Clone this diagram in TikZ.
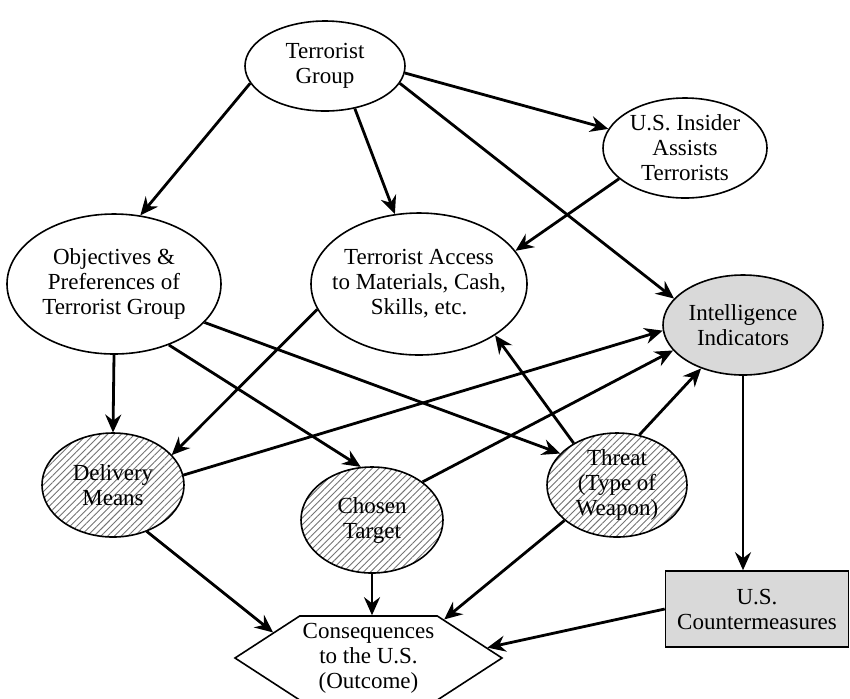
\documentclass[tikz,border=0pt]{standalone}
\usepackage{fontspec}
\setmainfont{Liberation Serif}
\usetikzlibrary{arrows.meta,shapes.geometric,shapes.symbols,patterns.meta}

\begin{document}
\begin{tikzpicture}[x=0.5pt,y=-0.5pt,
  font=\fontsize{11.5}{12.5}\selectfont,
  every node/.style={inner sep=0pt},
  oval/.style={ellipse,draw,line width=0.8pt,fill=white},
  hatched/.style={ellipse,draw,line width=0.8pt,
    pattern={Lines[angle=45,distance=2.4pt,line width=0.45pt]},pattern color=black!55},
  shaded/.style={ellipse,draw,line width=0.8pt,fill=black!15},
  txt/.style={label={[align=center]center:#1}},
  link/.style={-{Stealth[length=9pt,width=8pt,inset=3pt]},line width=1.4pt}]
  \useasboundingbox (0,0) rectangle (850,698);

  \node[oval,minimum width=80pt,minimum height=45pt,txt={Terrorist\\Group}] (group) at (325,66) {};
  \node[oval,minimum width=82pt,minimum height=50pt,txt={U.S. Insider\\Assists\\Terrorists}] (insider) at (685,148) {};
  \node[oval,minimum width=107pt,minimum height=70pt,txt={Objectives \&\\Preferences of\\Terrorist Group}] (goals) at (114,284) {};
  \node[oval,minimum width=108pt,minimum height=71pt,txt={Terrorist Access\\to Materials, Cash,\\Skills, etc.}] (access) at (419,284) {};
  \node[shaded,minimum width=80pt,minimum height=50pt,txt={Intelligence\\Indicators}] (intel) at (743,325) {};
  \node[hatched,minimum width=71pt,minimum height=52pt,txt={Delivery\\Means}] (delivery) at (113,485) {};
  \node[hatched,minimum width=71pt,minimum height=53pt,txt={Chosen\\Target}] (target) at (372,520) {};
  \node[hatched,minimum width=70pt,minimum height=52pt,txt={Threat\\(Type of\\Weapon)}] (threat) at (617,485) {};
  \node[draw,line width=0.8pt,fill=black!15,minimum width=91.5pt,minimum height=38pt,align=center] (counter) at (757,609) {U.S.\\Countermeasures};
  \node[signal,signal to=west and east,signal pointer angle=66,draw,line width=0.8pt,fill=white,
    minimum width=133.5pt,minimum height=42pt,txt={Consequences\\to the U.S.\\(Outcome)}] (outcome) at (368.5,658) {};

  \draw[link] (group.193) -- (goals.69);
  \draw[link] (group.-55) -- (access.109);
  \draw[link] (group.-5) -- (insider.166);
  \draw[link] (group.-13) -- (intel.159);
  \draw[link] (insider.205) -- (access.19);
  \draw[link] (goals.south) -- (delivery.north);
  \draw[link] (goals.-48) -- (target.102);
  \draw[link] (goals.-23) -- (threat.151);
  \draw[link] (access.194) -- (delivery.27);
  \draw[link] (threat.136) -- (access.-34);
  \draw[link] (delivery.8) -- (intel.184);
  \draw[link] (target.37) -- (intel.200);
  \draw[link] (threat.66) -- (intel.226);
  \draw[link] (target.south) -- (target.south |- outcome.north);
  \draw[link] (delivery.-54) -- (outcome.165);
  \draw[link] (threat.214) -- (outcome.27);
  \draw[link] (counter.west) -- (outcome.5);
  \draw[link] (intel.south) -- (intel.south |- counter.north);
\end{tikzpicture}
\end{document}
